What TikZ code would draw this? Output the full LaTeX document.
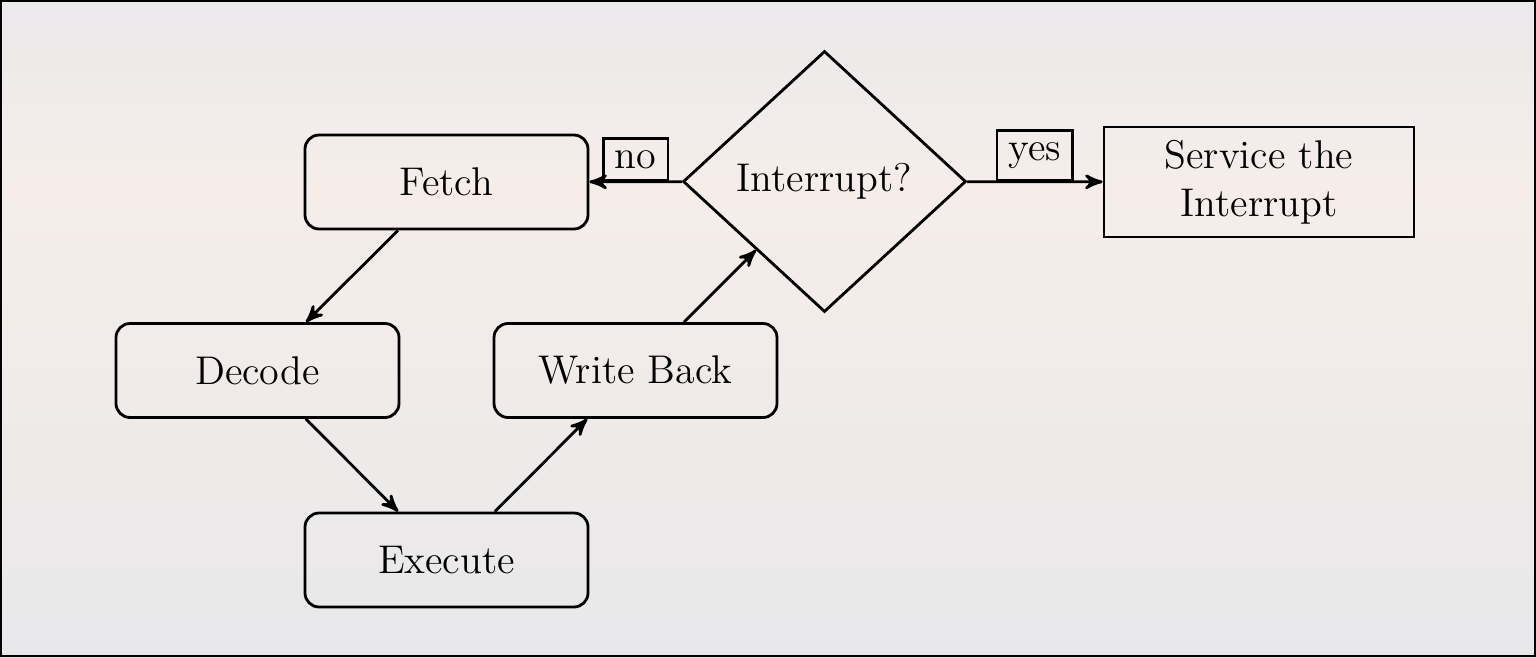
\documentclass[tikz,border=0pt]{standalone}
\usepackage{tikz}
\usetikzlibrary{arrows,shapes}

\definecolor{bgtop}{RGB}{234,233,235}
\definecolor{bgmid}{RGB}{246,237,233}
\definecolor{bgbot}{RGB}{232,232,234}

\begin{document}
\begin{tikzpicture}
  [thick,every node/.style={font=\fontsize{11.4}{13.6}\selectfont},
   stage/.style={rectangle,rounded corners=4pt,draw,minimum width=2.83cm,minimum height=0.94cm},
   decision/.style={diamond,draw,minimum width=2.83cm,minimum height=2.61cm,inner sep=0pt},
   service/.style={rectangle,draw,minimum width=3.1cm,minimum height=1.1cm,align=center},
   answer/.style={rectangle,draw,midway,above}]
  \useasboundingbox (0,0) rectangle (15.36,6.57);
  % blurred backdrop
  \shade[top color=bgtop,bottom color=bgmid] (0,6.57) rectangle (15.36,4.7);
  \shade[top color=bgmid,bottom color=bgbot] (0,4.7) rectangle (15.36,0);
  \draw[line width=0.02cm] (0.01,0.01) rectangle (15.35,6.56);

  \node[stage] (fetch) at (4.465,4.75) {Fetch};
  \node[stage] (decode) at (2.575,2.865) {Decode};
  \node[stage] (execute) at (4.465,0.97) {Execute};
  \node[stage] (writeback) at (6.355,2.865) {Write Back};
  \node[decision] (irq) at (8.245,4.755) {Interrupt?};
  \node[service] (service) at (12.59,4.75) {Service the\\Interrupt};

  \draw[arrows={-{stealth'}}] (fetch) to (decode);
  \draw[arrows={-{stealth'}}] (decode) to (execute);
  \draw[arrows={-{stealth'}}] (execute) to (writeback);
  \draw[arrows={-{stealth'}}] (writeback) to (irq);
  \draw[arrows={-{stealth'}}] (irq) to node[answer] (no) {no} (fetch);
  \draw[arrows={-{stealth'}}] (irq) to node[answer] (yes) {yes} (service);
\end{tikzpicture}
\end{document}
